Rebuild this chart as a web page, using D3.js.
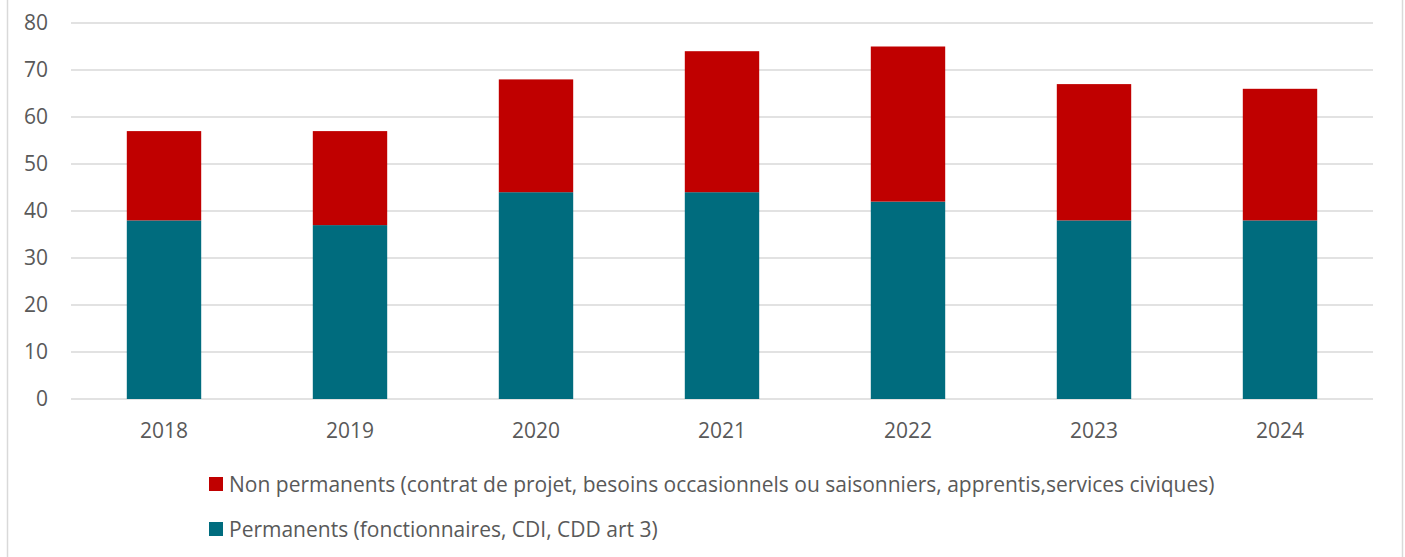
<!DOCTYPE html>
<html>
<head>
<meta charset="utf-8">
<script src="https://cdn.jsdelivr.net/npm/d3@7"></script>
<style>
  body { margin: 0; background: #fff; }
  svg text { font-family: "Open Sans", sans-serif; fill: #595959; }
</style>
</head>
<body>
<div id="chart"></div>
<script>
var years = ["2018", "2019", "2020", "2021", "2022", "2023", "2024"];
var permanents = [38, 37, 44, 44, 42, 38, 38];
var nonPermanents = [19, 20, 24, 30, 33, 29, 28];
var yTicks = [0, 10, 20, 30, 40, 50, 60, 70, 80];
var seriesNames = [
  "Non permanents (contrat de projet, besoins occasionnels ou saisonniers, apprentis,services civiques)",
  "Permanents (fonctionnaires, CDI, CDD art 3)"
];
var colors = ["#c00000", "#006c7e"];

var width = 1405,
  height = 557;
var margin = { left: 71, right: 32, top: 23, bottom: 158 };

var svg = d3
  .select("#chart")
  .append("svg")
  .attr("width", width)
  .attr("height", height);

// frame
svg
  .append("rect")
  .attr("x", 7.5)
  .attr("y", -2)
  .attr("width", 1395)
  .attr("height", height + 4)
  .attr("fill", "none")
  .attr("stroke", "#d9d9d9")
  .attr("stroke-width", 1.5);

var x = d3
  .scaleBand()
  .domain(years)
  .range([margin.left, width - margin.right])
  .paddingInner(0.6)
  .paddingOuter(0.3);

var y = d3
  .scaleLinear()
  .domain([0, 80])
  .range([height - margin.bottom, margin.top]);

// gridlines
svg
  .selectAll(".grid")
  .data(yTicks)
  .enter()
  .append("line")
  .attr("class", "grid")
  .attr("x1", margin.left)
  .attr("x2", width - margin.right)
  .attr("y1", function(d) { return y(d); })
  .attr("y2", function(d) { return y(d); })
  .attr("stroke", "#d9d9d9")
  .attr("stroke-width", 1.5);

// y labels
svg
  .append("g")
  .attr("transform", "translate(" + (margin.left - 23) + ",0)")
  .call(d3.axisLeft(y).tickValues(yTicks).tickSize(0).tickPadding(0))
  .call(function(g) {
    g.select(".domain").remove();
    g.selectAll("text")
      .attr("fill", "#595959")
      .style("font-size", "21px")
      .style("font-family", "'Open Sans', sans-serif");
  });

// x labels
svg
  .append("g")
  .attr("transform", "translate(0," + (height - margin.bottom) + ")")
  .call(d3.axisBottom(x).tickSize(0).tickPadding(24))
  .call(function(g) {
    g.select(".domain").remove();
    g.selectAll("text")
      .attr("fill", "#595959")
      .style("font-size", "21px")
      .style("font-family", "'Open Sans', sans-serif");
  });

// bars
var stackData = years.map(function(yr, i) {
  return { year: yr, perm: permanents[i], nonperm: nonPermanents[i] };
});

svg
  .selectAll(".perm")
  .data(stackData)
  .enter()
  .append("rect")
  .attr("class", "perm")
  .attr("x", function(d) { return x(d.year); })
  .attr("width", x.bandwidth())
  .attr("y", function(d) { return y(d.perm); })
  .attr("height", function(d) { return y(0) - y(d.perm); })
  .attr("fill", colors[1]);

svg
  .selectAll(".nonperm")
  .data(stackData)
  .enter()
  .append("rect")
  .attr("class", "nonperm")
  .attr("x", function(d) { return x(d.year); })
  .attr("width", x.bandwidth())
  .attr("y", function(d) { return y(d.perm + d.nonperm); })
  .attr("height", function(d) { return y(d.perm) - y(d.perm + d.nonperm); })
  .attr("fill", colors[0]);

// legend
var legend = svg
  .selectAll(".legend")
  .data(seriesNames)
  .enter()
  .append("g")
  .attr("class", "legend")
  .attr("transform", function(d, i) {
    return "translate(209," + (477 + i * 45) + ")";
  });

legend
  .append("rect")
  .attr("width", 14)
  .attr("height", 14)
  .attr("fill", function(d, i) { return colors[i]; });

legend
  .append("text")
  .attr("x", 20)
  .attr("y", 15)
  .style("font-size", "21px")
  .text(function(d) { return d; });
</script>
</body>
</html>
